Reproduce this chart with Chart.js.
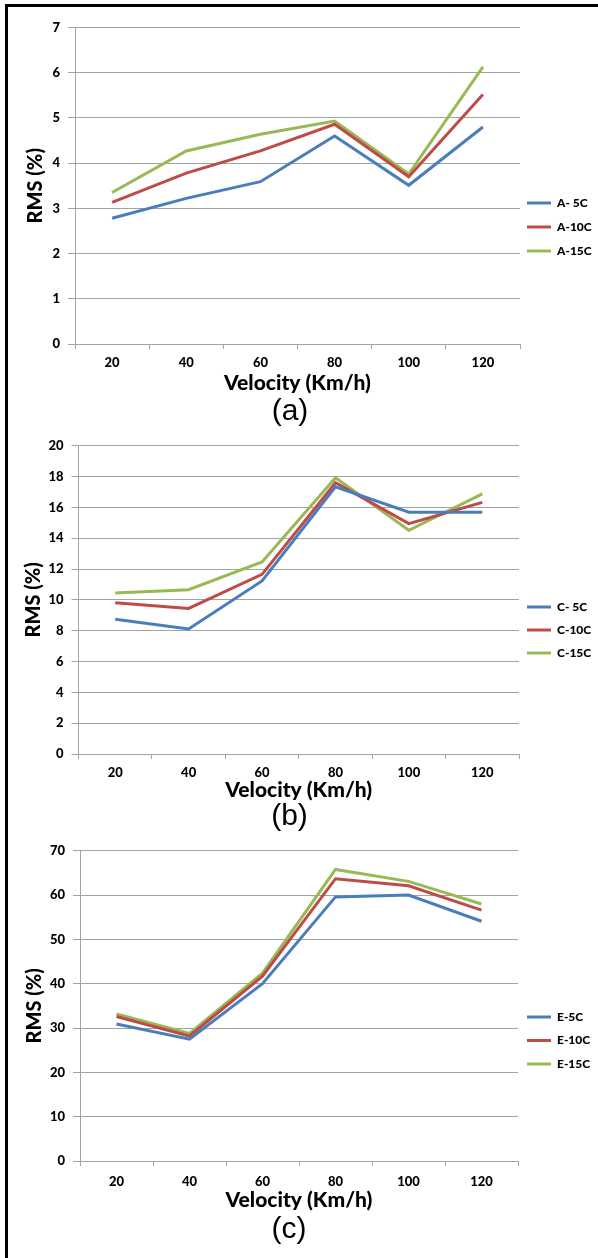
<!DOCTYPE html>
<html><head><meta charset="utf-8">
<script src="https://cdn.jsdelivr.net/npm/chart.js@4.4.0/dist/chart.umd.min.js"></script>
<style>
html,body{margin:0;padding:0;background:#fff;}
#wrap{position:relative;width:598px;height:1258px;overflow:hidden;background:#fff;}
canvas{position:absolute;left:0;}
#frame{position:absolute;left:5px;top:4px;width:620px;height:1300px;border-left:3px solid #000;border-top:3px solid #000;pointer-events:none;}
</style></head><body>
<div id="wrap">
<canvas id="ca" width="598" height="430" style="top:0px"></canvas>
<canvas id="cb" width="598" height="405" style="top:430px"></canvas>
<canvas id="cc" width="598" height="423" style="top:835px"></canvas>
<div id="frame"></div>
</div>
<script>
// ---- data ----
const velocity = ['20', '40', '60', '80', '100', '120'];

const seriesA = ['A- 5C', 'A-10C', 'A-15C'];
const rmsA5  = [2.78, 3.22, 3.59, 4.60, 3.51, 4.80];
const rmsA10 = [3.13, 3.78, 4.27, 4.86, 3.70, 5.52];
const rmsA15 = [3.35, 4.27, 4.64, 4.93, 3.76, 6.13];

const seriesC = ['C- 5C', 'C-10C', 'C-15C'];
const rmsC5  = [8.75, 8.11, 11.23, 17.34, 15.69, 15.69];
const rmsC10 = [9.81, 9.45, 11.66, 17.60, 14.95, 16.33];
const rmsC15 = [10.45, 10.66, 12.46, 17.92, 14.52, 16.88];

const seriesE = ['E-5C', 'E-10C', 'E-15C'];
const rmsE5  = [30.9, 27.5, 40.0, 59.6, 60.0, 54.1];
const rmsE10 = [32.6, 28.2, 41.7, 63.7, 62.1, 56.6];
const rmsE15 = [33.2, 28.8, 42.4, 65.8, 63.1, 58.0];

const yMaxA = 7,  yStepA = 1;
const yMaxC = 20, yStepC = 2;
const yMaxE = 70, yStepE = 10;

const captions = ['(a)', '(b)', '(c)'];
const xTitle = 'Velocity (Km/h)';
const yTitle = 'RMS (%)';

// ---- styling / layout ----
const COLORS = ['#4a7ebb', '#be4b48', '#98b954'];
const GRID = '#a3a3a3';
const FONT = 'Lato';
const HEAVY = '900';
const CAP_SIZE = 30, CAP_LH = CAP_SIZE * 1.2;
Chart.defaults.color = '#000';

const legendPlacer = {
  id: 'legendPlacer',
  afterLayout(chart, args, opts) {
    const lg = chart.legend; if (!lg) return;
    const lab = chart.options.plugins.legend.labels;
    lg.left = opts.x - lab.padding;
    lg.right = chart.width;
    lg.top = opts.y - lab.padding - lab.font.size / 2;
    lg.bottom = chart.height;
  }
};

function makeChart(id, L) {
  const capRel = L.captionY - L.canvasTop;
  const xBottomRel = capRel - CAP_LH / 2;
  const hX = xBottomRel - (L.plotBottom - L.canvasTop);
  const xTitleLH = 21 * 1.2;
  const xTitlePadB = xBottomRel - (L.velY - L.canvasTop) - xTitleLH / 2;
  const legendW = 60;
  return new Chart(document.getElementById(id), {
    type: 'line',
    data: {
      labels: velocity,
      datasets: L.series.map((name, i) => ({
        label: name,
        data: L.values[i],
        borderColor: COLORS[i],
        backgroundColor: COLORS[i],
        borderWidth: 3,
        pointRadius: 0,
        tension: 0,
        fill: false
      }))
    },
    options: {
      responsive: false,
      maintainAspectRatio: false,
      animation: false,
      devicePixelRatio: 1,
      layout: {
        padding: {
          top: L.plotTop - L.canvasTop,
          left: 0,
          right: 598 - L.plotRight - legendW,
          bottom: L.height - CAP_LH / 2 - capRel
        }
      },
      plugins: {
        legend: {
          position: 'right',
          align: 'start',
          maxWidth: legendW,
          labels: {
            usePointStyle: true,
            pointStyle: 'line',
            pointStyleWidth: 24,
            padding: L.legendGap - 12,
            color: '#000',
            font: { family: FONT, size: 12, weight: HEAVY }
          }
        },
        title: {
          display: true,
          position: 'bottom',
          text: L.caption,
          color: '#000',
          font: { family: 'Liberation Sans', size: CAP_SIZE, weight: 'normal', lineHeight: 1.2 },
          padding: { top: 0, bottom: 0 }
        },
        tooltip: { enabled: false },
        legendPlacer: { x: 527, y: L.legendY - L.canvasTop }
      },
      scales: {
        x: {
          offset: true,
          grid: { display: true, drawOnChartArea: false, drawTicks: true, tickLength: 5, offset: true, color: GRID, lineWidth: 1 },
          border: { display: true, color: GRID, width: 1 },
          ticks: { padding: L.xPad, color: '#000', font: { family: FONT, size: 13, weight: HEAVY } },
          title: { display: true, text: xTitle, color: '#000', font: { family: FONT, size: 21, weight: HEAVY, lineHeight: 1.2 }, padding: { top: 0, bottom: xTitlePadB } },
          afterFit(s) { s.height = hX; }
        },
        y: {
          min: 0, max: L.yMax,
          ticks: { stepSize: L.yStep, padding: 8, color: '#000', font: { family: FONT, size: 13, weight: HEAVY } },
          grid: { color: GRID, lineWidth: 1, tickLength: 7, drawTicks: true },
          border: { display: true, color: GRID, width: 1 },
          title: { display: true, text: yTitle, color: '#000', font: { family: FONT, size: 20, weight: HEAVY, lineHeight: 1.2 }, padding: { top: L.yTitleX - 12, bottom: 0 } },
          afterFit(s) { s.width = L.plotLeft; }
        }
      }
    },
    plugins: [legendPlacer]
  });
}

makeChart('ca', {
  canvasTop: 0, height: 430, plotTop: 27.5, plotBottom: 344, plotLeft: 75, plotRight: 520,
  captionY: 412, velY: 383, xPad: 6, yTitleX: 36, legendY: 203, legendGap: 24,
  series: seriesA, values: [rmsA5, rmsA10, rmsA15], yMax: yMaxA, yStep: yStepA, caption: captions[0]
});
makeChart('cb', {
  canvasTop: 430, height: 405, plotTop: 440, plotBottom: 754, plotLeft: 78.5, plotRight: 519,
  captionY: 817, velY: 790, xPad: 6, yTitleX: 34, legendY: 607, legendGap: 23,
  series: seriesC, values: [rmsC5, rmsC10, rmsC15], yMax: yMaxC, yStep: yStepC, caption: captions[1]
});
makeChart('cc', {
  canvasTop: 835, height: 423, plotTop: 843, plotBottom: 1161, plotLeft: 80, plotRight: 518,
  captionY: 1230, velY: 1200, xPad: 8, yTitleX: 35, legendY: 1017, legendGap: 23.5,
  series: seriesE, values: [rmsE5, rmsE10, rmsE15], yMax: yMaxE, yStep: yStepE, caption: captions[2]
});
</script>
</body></html>
